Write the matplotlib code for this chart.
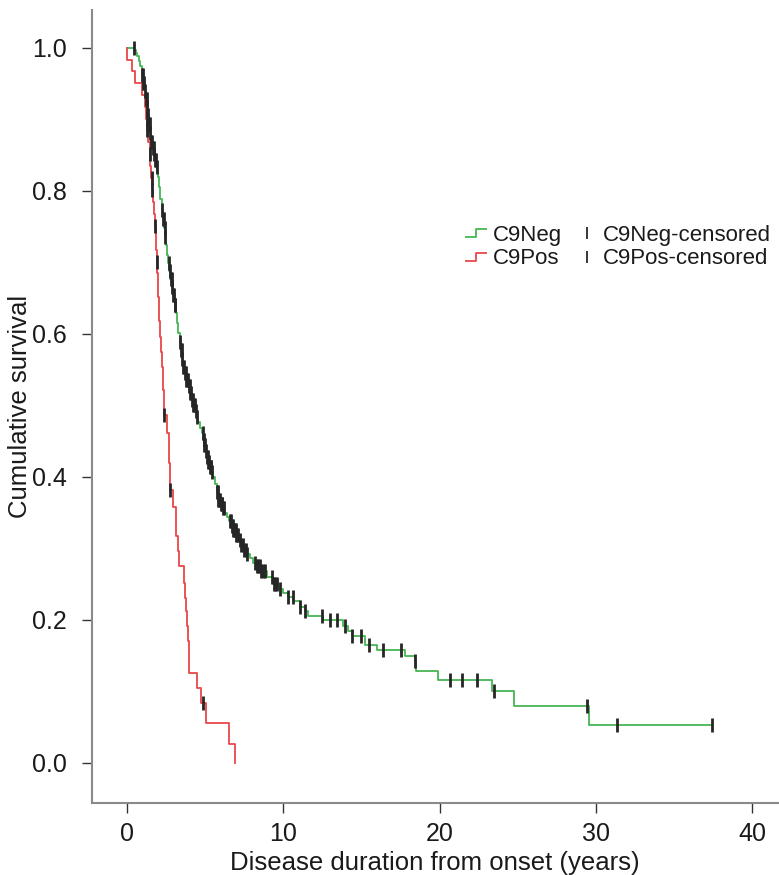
import numpy as np
import matplotlib
matplotlib.use('Agg')
import matplotlib.pyplot as plt
from matplotlib.lines import Line2D
from matplotlib.path import Path

plt.rcParams['font.family'] = ['Liberation Sans', 'DejaVu Sans']

# C9Neg survival curve (step times, survival after the step)
neg_time = [0.0, 0.45, 0.55, 0.65, 0.75, 0.85, 0.95, 1.04, 1.12, 1.2, 1.26, 1.33, 1.4, 1.47,
            1.55, 1.63, 1.71, 1.79, 1.87, 1.94, 2.0, 2.07, 2.14, 2.22, 2.29, 2.36, 2.43, 2.5,
            2.57, 2.64, 2.71, 2.78, 2.86, 2.95, 3.04, 3.13, 3.2, 3.28, 3.36, 3.44, 3.52, 3.6,
            3.7, 3.8, 3.92, 4.03, 4.14, 4.25, 4.36, 4.46, 4.56, 4.67, 4.78, 4.86, 4.94, 5.02,
            5.1, 5.2, 5.3, 5.41, 5.52, 5.62, 5.73, 5.84, 5.98, 6.12, 6.25, 6.38, 6.52, 6.66,
            6.8, 6.96, 7.12, 7.28, 7.44, 7.65, 7.87, 8.08, 8.3, 8.6, 8.94, 9.36, 9.7, 10.0,
            10.3, 10.64, 11.07, 11.39, 11.6, 12.57, 13.84, 14.17, 14.37, 15.23, 15.97, 17.79,
            18.43, 18.49, 19.92, 23.33, 24.76, 29.58]
neg_surv = [1.0, 0.997, 0.993, 0.988, 0.982, 0.975, 0.962, 0.951, 0.94, 0.928, 0.918, 0.906,
            0.894, 0.881, 0.869, 0.86, 0.851, 0.843, 0.834, 0.826, 0.82, 0.805, 0.789, 0.773,
            0.761, 0.748, 0.736, 0.724, 0.711, 0.699, 0.688, 0.677, 0.666, 0.654, 0.641, 0.629,
            0.615, 0.601, 0.589, 0.577, 0.565, 0.554, 0.545, 0.536, 0.527, 0.517, 0.508, 0.5,
            0.492, 0.484, 0.477, 0.469, 0.461, 0.452, 0.444, 0.436, 0.428, 0.421, 0.414, 0.407,
            0.4, 0.39, 0.379, 0.368, 0.362, 0.356, 0.35, 0.344, 0.338, 0.332, 0.326, 0.319,
            0.312, 0.305, 0.298, 0.292, 0.286, 0.28, 0.275, 0.268, 0.26, 0.25, 0.243, 0.237,
            0.232, 0.226, 0.218, 0.212, 0.206, 0.2, 0.191, 0.184, 0.177, 0.165, 0.158, 0.149,
            0.142, 0.128, 0.116, 0.1, 0.08, 0.053]
neg_last = 37.43
neg_cens = [0.42, 0.95, 1.0, 1.05, 1.1, 1.15, 1.2, 1.25, 1.3, 1.35, 1.4, 1.45, 1.5, 1.55, 1.6,
            1.65, 1.7, 1.75, 1.8, 1.86, 1.92, 2.25, 2.3, 2.35, 2.4, 2.45, 2.7, 2.75, 2.8, 2.85,
            2.9, 2.95, 3.0, 3.05, 3.1, 3.4, 3.45, 3.5, 3.55, 3.6, 3.65, 3.7, 3.75, 3.8, 3.85,
            3.9, 3.95, 4.0, 4.05, 4.1, 4.15, 4.2, 4.25, 4.3, 4.35, 4.4, 4.5, 4.85, 4.9, 4.95,
            5.0, 5.05, 5.1, 5.15, 5.2, 5.25, 5.3, 5.35, 5.4, 5.45, 5.75, 5.8, 5.85, 5.9, 5.95,
            6.0, 6.05, 6.1, 6.15, 6.2, 6.6, 6.65, 6.7, 6.75, 6.8, 6.85, 6.9, 6.95, 7.0, 7.05,
            7.1, 7.2, 7.3, 7.4, 7.5, 7.6, 7.7, 8.2, 8.3, 8.4, 8.5, 8.6, 8.7, 8.8, 9.3, 9.4, 9.5,
            9.6, 9.8, 10.3, 10.6, 11.07, 11.4, 12.5, 13.0, 13.45, 13.95, 14.37, 14.97, 15.48,
            16.4, 17.53, 18.43, 20.67, 21.41, 22.37, 23.48, 29.41, 31.35, 37.43]

# C9Pos survival curve
pos_time = [0.0, 0.02, 0.34, 0.49, 0.94, 1.15, 1.22, 1.29, 1.36, 1.44, 1.5, 1.56, 1.62, 1.68,
            1.73, 1.78, 1.83, 1.87, 1.91, 1.95, 1.98, 2.01, 2.04, 2.07, 2.11, 2.18, 2.24, 2.3,
            2.37, 2.58, 2.66, 2.75, 2.92, 3.13, 3.25, 3.35, 3.65, 3.72, 3.76, 3.82, 3.92, 3.96,
            3.99, 4.46, 4.71, 5.05, 6.55, 6.91]
pos_surv = [1.0, 0.983, 0.967, 0.951, 0.934, 0.918, 0.901, 0.885, 0.868, 0.851, 0.835, 0.818,
            0.801, 0.785, 0.768, 0.751, 0.735, 0.718, 0.701, 0.685, 0.668, 0.651, 0.634, 0.618,
            0.596, 0.575, 0.554, 0.521, 0.487, 0.461, 0.42, 0.382, 0.358, 0.317, 0.296, 0.275,
            0.252, 0.231, 0.212, 0.191, 0.17, 0.146, 0.126, 0.105, 0.084, 0.056, 0.027, 0.0]
pos_cens = [1.25, 1.3, 1.45, 1.58, 1.62, 1.79, 1.94, 2.37, 2.75, 4.88]

green = '#45b553'
red = '#e8474b'
black = '#262626'


def surv_at(times, surv, t):
    i = np.searchsorted(times, t, side='right') - 1
    return np.array(surv)[i]


fig = plt.figure(figsize=(7.79, 8.75), dpi=100)
ax = fig.add_axes([0.1181, 0.0823, 0.8806, 0.9063])

ax.step(neg_time + [neg_last], neg_surv + [neg_surv[-1]], where='post', color=green, lw=1.3)
ax.step(pos_time, pos_surv, where='post', color=red, lw=1.3)

ax.plot(neg_cens, surv_at(neg_time, neg_surv, np.array(neg_cens)), ls='none', marker='|',
        ms=10, mew=2, color=black)
ax.plot(pos_cens, surv_at(pos_time, pos_surv, np.array(pos_cens)), ls='none', marker='|',
        ms=10, mew=2, color=black)

ax.set_xlim(-2.24, 41.65)
ax.set_ylim(-0.056, 1.053)
ax.set_xticks([0, 10, 20, 30, 40])
ax.set_yticks([0.0, 0.2, 0.4, 0.6, 0.8, 1.0])
ax.set_yticklabels(['0.0', '0.2', '0.4', '0.6', '0.8', '1.0'])
ax.tick_params(direction='out', length=7, width=1, color='#333333', labelsize=18,
               labelcolor='#1a1a1a')
ax.tick_params(axis='x', pad=7)
ax.tick_params(axis='y', pad=11)
for s in ['top', 'right']:
    ax.spines[s].set_visible(False)
for s in ['left', 'bottom']:
    ax.spines[s].set_color('#8a8a8a')
    ax.spines[s].set_linewidth(1.5)

ax.set_xlabel('Disease duration from onset (years)', fontsize=18.5, labelpad=3,
              color='#1a1a1a')
ax.set_ylabel('Cumulative survival', fontsize=18.5, labelpad=0, color='#1a1a1a')

# legend: step glyph + censor tick
step_path = Path([(-1, -0.35), (0, -0.35), (0, 0.35), (1, 0.35)])
h_neg = Line2D([], [], ls='none', marker=step_path, ms=16, mfc='none', mec=green, mew=1.3)
h_pos = Line2D([], [], ls='none', marker=step_path, ms=16, mfc='none', mec=red, mew=1.3)
h_cen = Line2D([], [], ls='none', marker='|', ms=9, mew=1.3, color=black)
ax.legend([h_neg, h_pos, h_cen, h_cen], ['C9Neg', 'C9Pos', 'C9Neg-censored', 'C9Pos-censored'],
          ncol=2, frameon=False, fontsize=16, loc='upper left', bbox_to_anchor=(0.515, 0.754),
          handlelength=1.0, handletextpad=0.25, columnspacing=0.6, labelspacing=0.1,
          numpoints=1, labelcolor='#1a1a1a')

fig.savefig('out.png', dpi=100)
